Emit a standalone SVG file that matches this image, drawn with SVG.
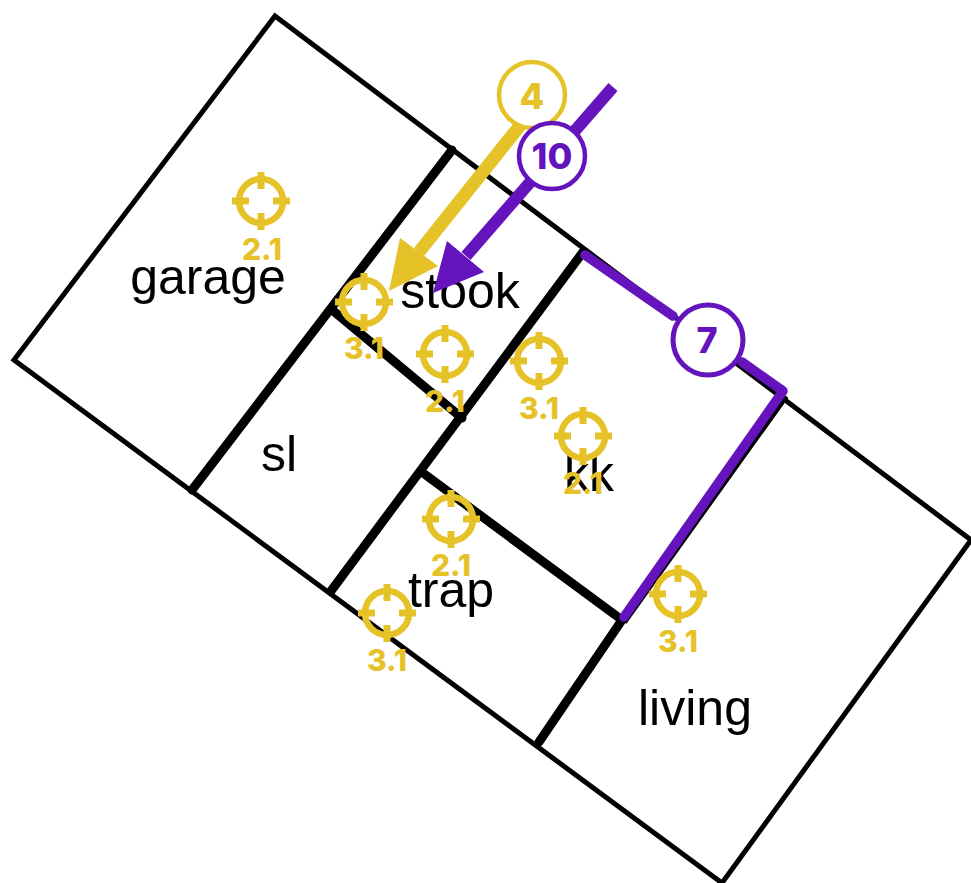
<svg xmlns="http://www.w3.org/2000/svg" width="971" height="883" viewBox="0 0 971 883">
<style>
.lbl{font-family:"Liberation Sans",Arial,sans-serif;font-size:50px;fill:#000;text-anchor:middle}
.num{font-family:Inter,"Open Sans",sans-serif;font-weight:800;font-size:30px;fill:#e6c229;text-anchor:middle}
.bad{font-family:Inter,"Open Sans",sans-serif;font-weight:800;font-size:36px;text-anchor:middle}
.wall{fill:none;stroke:#000;stroke-width:9;stroke-linecap:round}
.tick{fill:none;stroke:#e6c229;stroke-width:7;stroke-linecap:butt}
.ring{fill:none;stroke:#e6c229;stroke-width:6.5}
</style>
<defs>
<g id="target">
<circle class="ring" r="22"/>
<path class="tick" d="M0-29V-12M0 29V12M-29 0H-12M29 0H12"/>
</g>
</defs>
<g id="plan">
<polygon points="275,16 971,540 722,883 14,360" fill="#fff" stroke="#000" stroke-width="5"/>
</g>
<g id="walls">
<path class="wall" d="M452 150L192 490"/>
<path class="wall" d="M583 252L331 591"/>
<path class="wall" d="M331 309L462 418"/>
<path class="wall" d="M423 473L622 620"/>
<path class="wall" d="M622 620L539 742"/>
<path d="M786 396L624 622" fill="none" stroke="#000" stroke-width="6"/>
</g>
<g id="labels">
<text class="lbl" x="208" y="294">garage</text>
<text class="lbl" x="460" y="308">stook</text>
<text class="lbl" x="279" y="471">sl</text>
<text class="lbl" x="589" y="491">kk</text>
<text class="lbl" x="451" y="607">trap</text>
<text class="lbl" x="695" y="725">living</text>
</g>
<g id="targets">
<g id="t1"><use href="#target" x="261" y="201"/><text class="num" x="262" y="260">2.1</text></g>
<g id="t2"><use href="#target" x="364" y="302"/><text class="num" x="364" y="359">3.1</text></g>
<g id="t3"><use href="#target" x="445" y="354"/><text class="num" x="445" y="412">2.1</text></g>
<g id="t4"><use href="#target" x="539" y="361"/><text class="num" x="539" y="419">3.1</text></g>
<g id="t5"><use href="#target" x="583" y="436"/><text class="num" x="583" y="494">2.1</text></g>
<g id="t6"><use href="#target" x="451" y="519"/><text class="num" x="451" y="576">2.1</text></g>
<g id="t7"><use href="#target" x="387" y="613"/><text class="num" x="387" y="671">3.1</text></g>
<g id="t8"><use href="#target" x="678" y="594"/><text class="num" x="678" y="652">3.1</text></g>
</g>
<g id="connectors">
<path d="M613 87L466 256" fill="none" stroke="#6514bd" stroke-width="12"/>
<polygon points="433,293 447,241 484,272" fill="#6514bd"/>
<path d="M526 118L419 252" fill="none" stroke="#e6c229" stroke-width="13"/>
<polygon points="389,291 400,238 438,266" fill="#e6c229"/>
<path d="M585 255L673 316M742 362L783 391L624 617" fill="none" stroke="#6514bd" stroke-width="9.5" stroke-linecap="round" stroke-linejoin="round"/>
</g>
<g id="badge4"><circle cx="532" cy="95" r="33" fill="#fff" stroke="#e6c229" stroke-width="4.5"/><text class="bad" x="532" y="109" fill="#e6c229">4</text></g>
<g id="badge10"><circle cx="552" cy="156" r="33" fill="#fff" stroke="#6514bd" stroke-width="4.5"/><text class="bad" x="552" y="169" fill="#6514bd">10</text></g>
<g id="badge7"><circle cx="708" cy="340" r="35" fill="#fff" stroke="#6514bd" stroke-width="5"/><text class="bad" x="707" y="353" fill="#6514bd">7</text></g>
</svg>
